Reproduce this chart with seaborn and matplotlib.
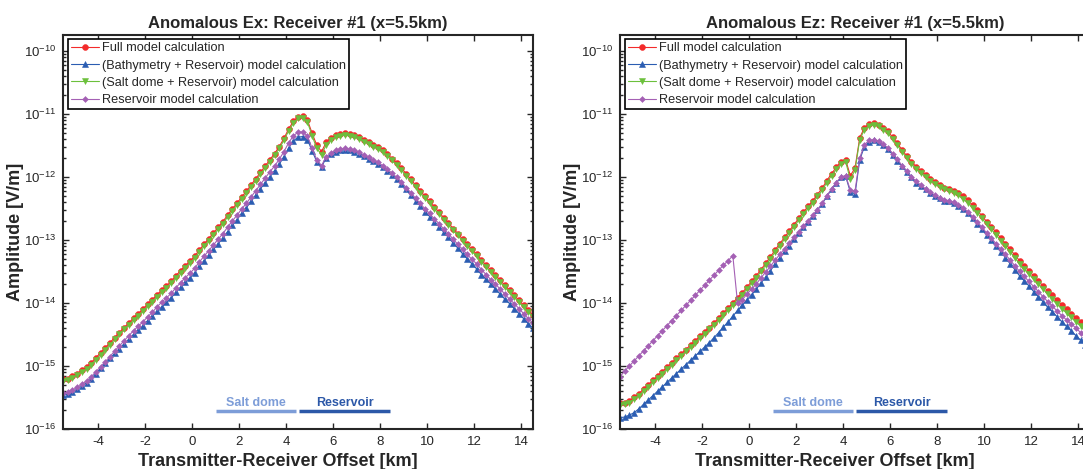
import numpy as np
import seaborn as sns
import matplotlib.pyplot as plt
from matplotlib.ticker import LogLocator, NullFormatter

# transmitter-receiver offset of every sample (km), 0.2 km spacing
offset_km = np.linspace(-5.5, 14.5, 101)

# log10 of amplitude [V/m] -- left panel (Ex)
ex_full = [-15.21, -15.20, -15.16, -15.12, -15.07, -15.02, -14.95, -14.87, -14.79, -14.71,
           -14.63, -14.55, -14.47, -14.39, -14.32, -14.24, -14.17, -14.10, -14.02, -13.95,
           -13.87, -13.80, -13.73, -13.66, -13.57, -13.49, -13.41, -13.34, -13.26, -13.16,
           -13.07, -12.98, -12.89, -12.80, -12.71, -12.61, -12.51, -12.42, -12.32, -12.23,
           -12.13, -12.03, -11.93, -11.83, -11.73, -11.63, -11.52, -11.39, -11.24, -11.12,
           -11.05, -11.04, -11.10, -11.31, -11.50, -11.60, -11.45, -11.38, -11.34, -11.32,
           -11.31, -11.32, -11.34, -11.37, -11.41, -11.45, -11.49, -11.53, -11.58, -11.64,
           -11.71, -11.78, -11.86, -11.95, -12.04, -12.13, -12.22, -12.31, -12.39, -12.48,
           -12.56, -12.65, -12.73, -12.82, -12.90, -12.99, -13.07, -13.15, -13.23, -13.32,
           -13.40, -13.48, -13.56, -13.64, -13.72, -13.80, -13.88, -13.96, -14.04, -14.12,
           -14.19]
ex_bathy = [-15.46, -15.45, -15.41, -15.37, -15.32, -15.27, -15.20, -15.12, -15.04, -14.96,
            -14.88, -14.80, -14.73, -14.65, -14.58, -14.50, -14.43, -14.36, -14.28, -14.21,
            -14.13, -14.06, -13.99, -13.92, -13.83, -13.75, -13.67, -13.60, -13.52, -13.42,
            -13.33, -13.24, -13.15, -13.06, -12.97, -12.87, -12.77, -12.68, -12.58, -12.49,
            -12.39, -12.29, -12.19, -12.09, -12.00, -11.90, -11.80, -11.68, -11.54, -11.43,
            -11.37, -11.36, -11.41, -11.59, -11.76, -11.84, -11.70, -11.64, -11.60, -11.58,
            -11.57, -11.58, -11.60, -11.63, -11.67, -11.71, -11.75, -11.79, -11.84, -11.90,
            -11.97, -12.04, -12.11, -12.20, -12.29, -12.38, -12.46, -12.55, -12.63, -12.72,
            -12.79, -12.88, -12.96, -13.05, -13.13, -13.22, -13.30, -13.38, -13.46, -13.55,
            -13.62, -13.70, -13.78, -13.86, -13.94, -14.01, -14.09, -14.17, -14.25, -14.33,
            -14.40]
ex_salt = [-15.24, -15.23, -15.19, -15.15, -15.10, -15.05, -14.98, -14.90, -14.82, -14.74,
           -14.66, -14.58, -14.50, -14.42, -14.35, -14.27, -14.20, -14.13, -14.05, -13.98,
           -13.90, -13.83, -13.76, -13.69, -13.60, -13.52, -13.44, -13.37, -13.29, -13.19,
           -13.10, -13.01, -12.92, -12.83, -12.74, -12.64, -12.54, -12.45, -12.35, -12.26,
           -12.16, -12.06, -11.96, -11.86, -11.76, -11.66, -11.55, -11.42, -11.27, -11.15,
           -11.07, -11.06, -11.13, -11.35, -11.55, -11.65, -11.49, -11.41, -11.37, -11.35,
           -11.34, -11.35, -11.37, -11.40, -11.44, -11.48, -11.52, -11.56, -11.61, -11.67,
           -11.74, -11.81, -11.89, -11.98, -12.07, -12.16, -12.25, -12.34, -12.42, -12.51,
           -12.59, -12.68, -12.76, -12.85, -12.93, -13.02, -13.10, -13.18, -13.26, -13.35,
           -13.43, -13.51, -13.59, -13.67, -13.75, -13.83, -13.91, -13.99, -14.07, -14.15,
           -14.22]
ex_res = [-15.43, -15.42, -15.38, -15.34, -15.29, -15.24, -15.17, -15.09, -15.01, -14.93,
          -14.85, -14.76, -14.68, -14.60, -14.52, -14.44, -14.37, -14.30, -14.22, -14.15,
          -14.06, -13.99, -13.92, -13.85, -13.76, -13.68, -13.60, -13.53, -13.45, -13.35,
          -13.26, -13.17, -13.08, -12.99, -12.90, -12.80, -12.70, -12.61, -12.51, -12.42,
          -12.32, -12.22, -12.12, -12.02, -11.92, -11.83, -11.72, -11.60, -11.46, -11.35,
          -11.29, -11.29, -11.35, -11.55, -11.73, -11.82, -11.68, -11.62, -11.58, -11.56,
          -11.55, -11.56, -11.58, -11.61, -11.65, -11.69, -11.73, -11.77, -11.82, -11.88,
          -11.94, -12.01, -12.08, -12.17, -12.25, -12.34, -12.42, -12.51, -12.58, -12.67,
          -12.74, -12.83, -12.90, -12.99, -13.07, -13.15, -13.23, -13.31, -13.38, -13.47,
          -13.55, -13.63, -13.70, -13.78, -13.86, -13.94, -14.01, -14.09, -14.17, -14.25,
          -14.32]

# right panel (Ez)
ez_full = [-15.59, -15.58, -15.55, -15.50, -15.44, -15.37, -15.30, -15.23, -15.16, -15.09,
           -15.02, -14.95, -14.88, -14.81, -14.74, -14.67, -14.60, -14.53, -14.46, -14.39,
           -14.32, -14.24, -14.16, -14.08, -14.00, -13.92, -13.84, -13.75, -13.66, -13.57,
           -13.47, -13.37, -13.27, -13.16, -13.06, -12.96, -12.86, -12.76, -12.66, -12.56,
           -12.47, -12.38, -12.28, -12.18, -12.06, -11.95, -11.85, -11.76, -11.73, -11.98,
           -11.86, -11.38, -11.22, -11.16, -11.15, -11.17, -11.22, -11.28, -11.37, -11.47,
           -11.57, -11.67, -11.76, -11.84, -11.91, -11.97, -12.03, -12.08, -12.13, -12.17,
           -12.19, -12.22, -12.26, -12.31, -12.37, -12.45, -12.53, -12.62, -12.71, -12.79,
           -12.88, -12.97, -13.06, -13.15, -13.24, -13.33, -13.41, -13.49, -13.57, -13.65,
           -13.73, -13.81, -13.88, -13.96, -14.03, -14.10, -14.17, -14.24, -14.31, -14.38,
           -14.45]
ez_bathy = [-15.82, -15.81, -15.78, -15.74, -15.68, -15.61, -15.54, -15.47, -15.40, -15.33,
            -15.26, -15.19, -15.12, -15.05, -14.98, -14.91, -14.84, -14.77, -14.70, -14.63,
            -14.55, -14.47, -14.38, -14.30, -14.21, -14.12, -14.04, -13.95, -13.87, -13.78,
            -13.68, -13.59, -13.49, -13.38, -13.28, -13.18, -13.09, -12.99, -12.89, -12.80,
            -12.71, -12.62, -12.53, -12.43, -12.31, -12.20, -12.10, -12.01, -11.99, -12.24,
            -12.27, -11.73, -11.52, -11.44, -11.42, -11.44, -11.49, -11.56, -11.65, -11.75,
            -11.83, -11.93, -12.01, -12.09, -12.15, -12.20, -12.25, -12.30, -12.34, -12.38,
            -12.39, -12.42, -12.46, -12.51, -12.57, -12.65, -12.74, -12.83, -12.92, -13.00,
            -13.10, -13.19, -13.28, -13.38, -13.47, -13.57, -13.65, -13.73, -13.82, -13.90,
            -13.98, -14.07, -14.14, -14.22, -14.30, -14.37, -14.44, -14.52, -14.59, -14.67,
            -14.74]
ez_salt = [-15.62, -15.61, -15.58, -15.53, -15.47, -15.40, -15.33, -15.26, -15.19, -15.12,
           -15.05, -14.98, -14.91, -14.84, -14.77, -14.70, -14.63, -14.56, -14.49, -14.42,
           -14.35, -14.27, -14.19, -14.11, -14.03, -13.95, -13.87, -13.78, -13.69, -13.60,
           -13.50, -13.40, -13.30, -13.19, -13.09, -12.99, -12.89, -12.79, -12.69, -12.59,
           -12.50, -12.41, -12.31, -12.21, -12.09, -11.98, -11.88, -11.79, -11.76, -12.04,
           -11.89, -11.41, -11.25, -11.19, -11.18, -11.20, -11.25, -11.31, -11.40, -11.50,
           -11.60, -11.70, -11.79, -11.87, -11.94, -12.00, -12.06, -12.11, -12.16, -12.20,
           -12.22, -12.25, -12.29, -12.35, -12.41, -12.49, -12.57, -12.66, -12.75, -12.83,
           -12.92, -13.01, -13.10, -13.19, -13.28, -13.38, -13.46, -13.54, -13.62, -13.70,
           -13.78, -13.86, -13.94, -14.02, -14.09, -14.16, -14.23, -14.30, -14.37, -14.44,
           -14.52]
ez_res = [-15.17, -15.08, -15.00, -14.92, -14.84, -14.76, -14.68, -14.60, -14.52, -14.44,
          -14.36, -14.28, -14.20, -14.12, -14.04, -13.96, -13.88, -13.80, -13.72, -13.64,
          -13.56, -13.48, -13.40, -13.33, -13.25, -14.00, -13.95, -13.86, -13.78, -13.70,
          -13.60, -13.51, -13.42, -13.32, -13.23, -13.14, -13.05, -12.96, -12.87, -12.78,
          -12.70, -12.61, -12.52, -12.42, -12.30, -12.19, -12.09, -12.00, -11.98, -12.21,
          -12.23, -11.70, -11.49, -11.42, -11.41, -11.43, -11.48, -11.54, -11.63, -11.72,
          -11.82, -11.91, -12.00, -12.07, -12.13, -12.19, -12.24, -12.29, -12.33, -12.36,
          -12.38, -12.40, -12.44, -12.49, -12.55, -12.63, -12.71, -12.80, -12.89, -12.97,
          -13.06, -13.15, -13.23, -13.32, -13.41, -13.50, -13.58, -13.66, -13.74, -13.82,
          -13.90, -13.98, -14.05, -14.13, -14.20, -14.27, -14.33, -14.40, -14.47, -14.54,
          -14.61]

labels = ['Full model calculation',
          '(Bathymetry + Reservoir) model calculation',
          '(Salt dome + Reservoir) model calculation',
          'Reservoir model calculation']
colors = ['#f32b2b', '#2b5db2', '#6cc03c', '#a460b4']
markers = ['o', '^', 'v', 'D']
marker_sizes = [4.2, 4.2, 4.2, 3.0]

titles = ['Anomalous Ex: Receiver #1 (x=5.5km)', 'Anomalous Ez: Receiver #1 (x=5.5km)']

# bars at the bottom marking the structures (km)
zone_names = ['Salt dome', 'Reservoir']
zone_start = [1.0, 4.55]
zone_end = [4.4, 8.4]
zone_colors = ['#7d9dd8', '#2c58a8']

sns.set_style('ticks')
plt.rcParams['font.family'] = ['Liberation Sans', 'DejaVu Sans']
plt.rcParams['mathtext.fontset'] = 'custom'
plt.rcParams['mathtext.rm'] = 'Liberation Sans'
plt.rcParams['axes.unicode_minus'] = False

fig = plt.figure(figsize=(10.83, 4.69), dpi=100)
ax1 = fig.add_axes([0.0582, 0.0853, 0.434, 0.840])
ax2 = fig.add_axes([0.5725, 0.0853, 0.434, 0.840])


def draw_panel(ax, curves, title):
    for vals, lab, col, mk, ms in zip(curves, labels, colors, markers, marker_sizes):
        sns.lineplot(x=offset_km, y=np.power(10.0, vals), ax=ax, color=col,
                     marker=mk, markersize=ms, markeredgecolor=col, markeredgewidth=0.4,
                     linewidth=0.8, label=lab, estimator=None)

    ax.set_yscale('log')
    ax.set_xlim(-5.5, 14.5)
    ax.set_ylim(1e-16, 10 ** -9.75)
    ax.set_xticks(range(-4, 15, 2))
    ax.yaxis.set_major_locator(LogLocator(base=10, numticks=20))
    ax.yaxis.set_minor_locator(LogLocator(base=10, subs=range(2, 10), numticks=20))
    ax.yaxis.set_minor_formatter(NullFormatter())
    ax.tick_params(which='both', direction='in', top=True, right=True, width=1)
    ax.tick_params(which='major', length=4, labelsize=9.5, pad=5)
    ax.tick_params(which='minor', length=2)
    for sp in ax.spines.values():
        sp.set_linewidth(1.5)

    ax.set_title(title, fontsize=12, fontweight='bold', pad=5)
    ax.set_xlabel('Transmitter-Receiver Offset [km]', fontsize=13, fontweight='bold')
    ax.xaxis.set_label_coords(0.457, -0.062)
    ax.set_ylabel('Amplitude [V/m]', fontsize=13, fontweight='bold', labelpad=0)

    for name, x0, x1, col in zip(zone_names, zone_start, zone_end, zone_colors):
        ax.plot([x0, x1], [10 ** -15.71, 10 ** -15.71], color=col, lw=2.5, solid_capstyle='butt')
        ax.text((x0 + x1) / 2, 10 ** -15.58, name, color=col, ha='center', va='center',
                fontsize=9, fontweight='bold')

    leg = ax.legend(loc='upper left', bbox_to_anchor=(0.01, 0.99), fontsize=9.2,
                    frameon=True, fancybox=False, framealpha=1, edgecolor='black',
                    handlelength=2.2, handletextpad=0.25, labelspacing=0.42,
                    borderpad=0.25, borderaxespad=0)
    leg.get_frame().set_linewidth(1.2)


draw_panel(ax1, [ex_full, ex_bathy, ex_salt, ex_res], titles[0])
draw_panel(ax2, [ez_full, ez_bathy, ez_salt, ez_res], titles[1])

fig.savefig('out.png', dpi=100)
